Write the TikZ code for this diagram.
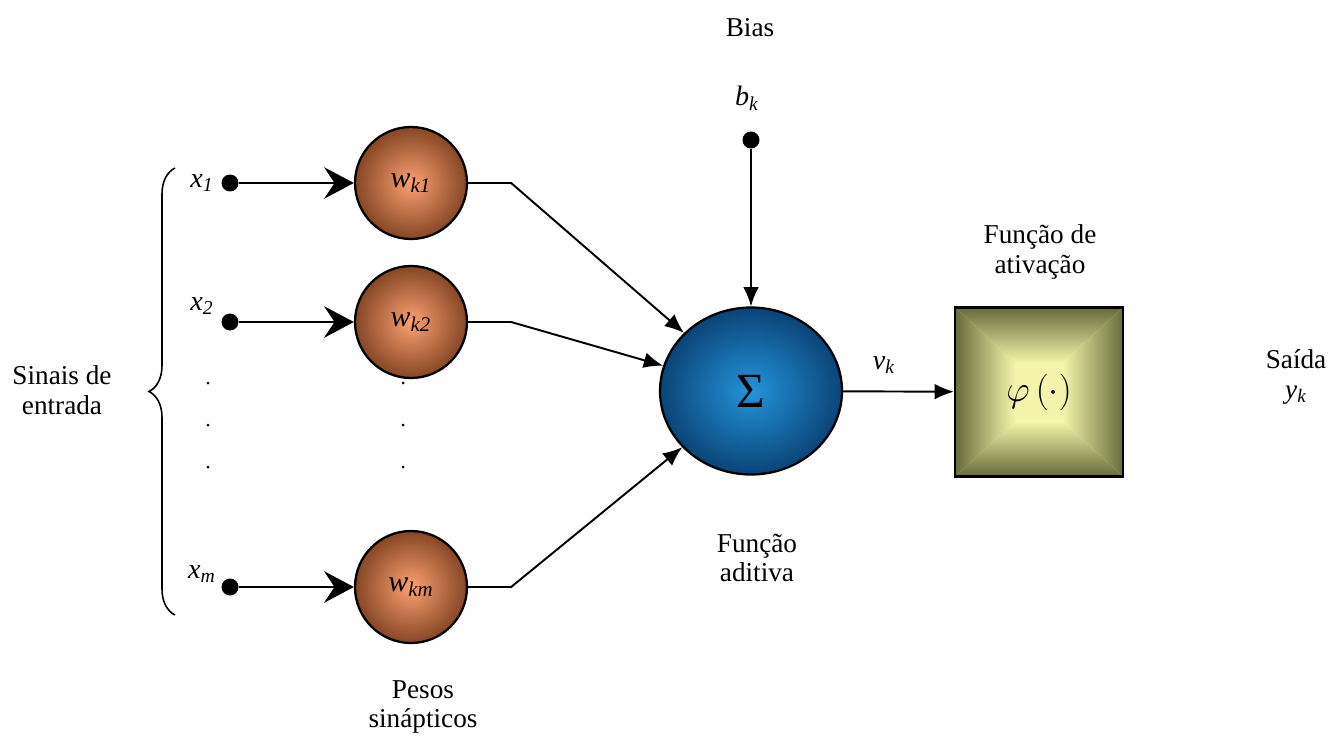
\documentclass[tikz,border=0pt]{standalone}
\usepackage{fontspec}
\setmainfont{Liberation Serif}
\usetikzlibrary{arrows.meta,shapes.geometric,decorations.pathreplacing,positioning}

\definecolor{pesoOut}{RGB}{134,70,36}
\definecolor{pesoIn}{RGB}{252,160,114}
\definecolor{somaOut}{RGB}{10,68,120}
\definecolor{somaIn}{RGB}{36,148,218}
\definecolor{ativOut}{RGB}{102,108,58}
\definecolor{ativIn}{RGB}{244,244,172}

\newcommand{\vsub}[2]{\textit{#1}\textsubscript{\textit{#2}}}

\tikzset{
  peso/.style={circle, draw, line width=1.3pt, minimum size=2.24cm,
    inner color=pesoIn, outer color=pesoOut,
    font=\fontsize{17}{19}\selectfont},
  soma/.style={ellipse, draw, line width=1.3pt, minimum width=3.64cm,
    minimum height=3.34cm, inner color=somaIn, outer color=somaOut,
    font=\fontsize{28}{30}\selectfont},
  ativ/.style={draw, line width=1.3pt, minimum width=3.36cm, minimum height=3.38cm,
    fill=ativIn, font=\fontsize{22}{24}\selectfont,
    path picture={
      \coordinate (nw) at (path picture bounding box.north west);
      \coordinate (ne) at (path picture bounding box.north east);
      \coordinate (sw) at (path picture bounding box.south west);
      \coordinate (se) at (path picture bounding box.south east);
      \shade[top color=ativOut, bottom color=ativIn]
        (nw) -- (ne) -- ([shift={(-1.2cm,-1.1cm)}]ne) -- ([shift={(1.2cm,-1.1cm)}]nw) -- cycle;
      \shade[bottom color=ativOut, top color=ativIn]
        (sw) -- (se) -- ([shift={(-1.2cm,1.1cm)}]se) -- ([shift={(1.2cm,1.1cm)}]sw) -- cycle;
      \shade[left color=ativOut, right color=ativIn]
        (nw) -- ([shift={(1.2cm,-1.1cm)}]nw) -- ([shift={(1.2cm,1.1cm)}]sw) -- (sw) -- cycle;
      \shade[right color=ativOut, left color=ativIn]
        (ne) -- ([shift={(-1.2cm,-1.1cm)}]ne) -- ([shift={(-1.2cm,1.1cm)}]se) -- (se) -- cycle;
    }},
  entrada/.style={circle, fill, inner sep=0pt, minimum size=0.34cm},
  lig/.style={line width=1.1pt},
  txt/.style={align=center, font=\fontsize{15.5}{17}\selectfont},
  rot/.style={font=\fontsize{16}{18}\selectfont, inner sep=1pt}
}

\begin{document}
\begin{tikzpicture}[x=0.02cm, y=-0.02cm]
\useasboundingbox (0,0) rectangle (1328,740);

%% === entradas e pesos sinapticos ===
\foreach \i/\y in {1/183,2/322,m/587} {
    \node[entrada] (x\i) at (230,\y) {};
    \node[peso] (w\i) at (411,\y) {\vsub{w}{k\i}};
}
\node[rot] (lx1) at (202,183) {\vsub{x}{1}};
\node[rot] (lx2) at (202,306) {\vsub{x}{2}};
\node[rot] (lxm) at (202,574) {\vsub{x}{m}};

%% reticencias
\foreach \y in {383,425,467} {
    \fill (208,\y) circle (0.03cm);
    \fill (403,\y) circle (0.03cm);
}

%% chave dos sinais de entrada
\draw[line width=0.9pt, decorate, decoration={brace, amplitude=0.52cm}]
    (175,615) -- (175,168);
\node[txt] (sinais) at (62,390) {Sinais de\\entrada};
\node[txt] (pesos) at (423,707) {Pesos\\sinápticos};

%% === somador, bias e ativacao ===
\node[soma] (sum) at (751,391) {Σ};
\node[entrada] (bias) at (751,140) {};
\node[rot] (lbk) at (747,98) {\vsub{b}{k}};
\node[txt] (lbias) at (750,28) {Bias};
\node[txt] (aditiva) at (757,558) {Função\\aditiva};

\node[ativ] (phi) at (1039,392) {$\varphi\,(\cdot)$};
\node[txt] (lativ) at (1040,252) {Função de\\ativação};
\node[rot] (lvk) at (884,365) {\vsub{v}{k}};
\node[txt] (saida) at (1296,377) {Saída\\\vsub{y}{k}};

%% === ligacoes ===
\foreach \i in {1,2,m}
    \draw[lig, -{Stealth[length=17pt, width=18pt, inset=6pt]}] (x\i) -- (w\i);
\foreach \i in {1,2,m}
    \draw[lig, -{Latex[length=11pt, width=9pt]}] (w\i.east) -- ++(43,0) -- (sum);
\draw[lig, -{Latex[length=11pt, width=9pt]}] (bias) -- (sum);
\draw[lig, -{Latex[length=11pt, width=9pt]}] (sum) -- (phi);

\end{tikzpicture}
\end{document}
